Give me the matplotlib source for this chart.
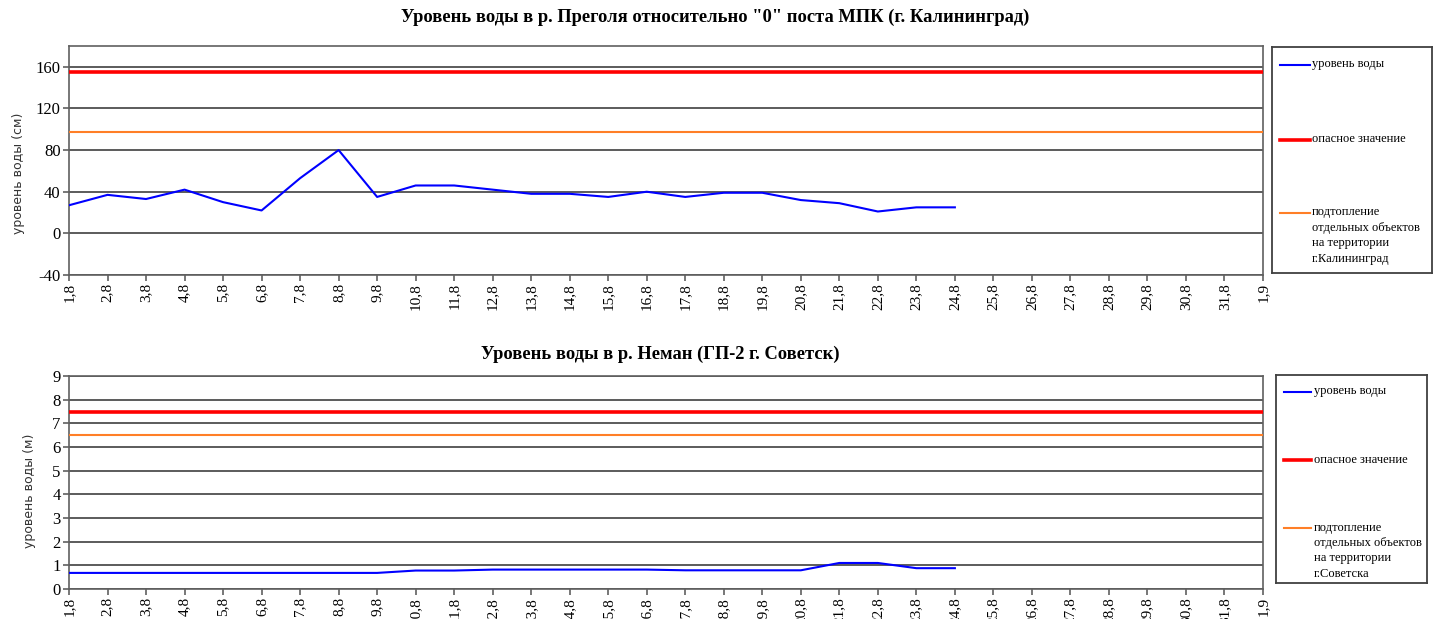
import numpy as np
import matplotlib.pyplot as plt

plt.rcParams['axes.unicode_minus'] = False

dates = ['1,8', '2,8', '3,8', '4,8', '5,8', '6,8', '7,8', '8,8', '9,8', '10,8',
         '11,8', '12,8', '13,8', '14,8', '15,8', '16,8', '17,8', '18,8', '19,8',
         '20,8', '21,8', '22,8', '23,8', '24,8', '25,8', '26,8', '27,8', '28,8',
         '29,8', '30,8', '31,8', '1,9']

# р. Преголя, см
pregolya = [27, 37, 33, 42, 30, 22, 53, 80, 35, 46, 46, 42, 38, 38, 35, 40,
            35, 39, 39, 32, 29, 21, 25, 25]
pregolya_danger = 155
pregolya_flood = 97

# р. Неман, м
neman = [0.68, 0.68, 0.68, 0.68, 0.68, 0.68, 0.68, 0.68, 0.68, 0.78, 0.78,
         0.82, 0.82, 0.82, 0.82, 0.82, 0.79, 0.79, 0.79, 0.79, 1.1, 1.1,
         0.88, 0.88]
neman_danger = 7.5
neman_flood = 6.5

serif = 'Liberation Serif'
W, H = 1437, 619
fig = plt.figure(figsize=(W / 100, H / 100), dpi=100)


def px(x0, y0, x1, y1):
    return [x0 / W, 1 - y1 / H, (x1 - x0) / W, (y1 - y0) / H]


def draw(ax, values, danger, flood, yticks, ylim, ylabel, lblxy):
    x = np.arange(len(dates))
    ax.plot(x[:len(values)], values, color='#0000ff', lw=1.5, zorder=3)
    ax.axhline(danger, color='#ff0000', lw=2.6, zorder=3)
    ax.axhline(flood, color='#ff7f27', lw=1.5, zorder=3)
    ax.set_xlim(0, len(dates) - 1)
    ax.set_ylim(*ylim)
    ax.set_yticks(yticks)
    ax.set_xticks(x)
    ax.set_xticklabels(dates, rotation=90, fontfamily=serif, fontsize=11)
    for lab in ax.get_yticklabels():
        lab.set_fontfamily(serif)
        lab.set_fontsize(12)
    ax.yaxis.grid(True, color='#404040', lw=1.2)
    ax.set_axisbelow(True)
    for s in ax.spines.values():
        s.set_color('#606060')
        s.set_linewidth(1.2)
    ax.tick_params(axis='both', direction='out', length=4, width=1.2,
                   color='#606060', pad=2)
    ax.set_ylabel(ylabel, fontsize=9, color='#333333')
    ax.yaxis.set_label_coords(*lblxy)


def legend_box(rect, place_lbl):
    lax = fig.add_axes(rect)
    lax.set_xlim(0, 1)
    lax.set_ylim(1, 0)
    lax.set_xticks([])
    lax.set_yticks([])
    for s in lax.spines.values():
        s.set_color('#404040')
        s.set_linewidth(1.3)
    items = [('#0000ff', 1.5, 'уровень воды', 0.08),
             ('#ff0000', 2.6, 'опасное значение', 0.41),
             ('#ff7f27', 1.5, 'подтопление\nотдельных объектов\nна территории\n' + place_lbl, 0.735)]
    for col, lw, lbl, y in items:
        lax.plot([0.05, 0.235], [y, y], color=col, lw=lw)
        lax.text(0.25, y - 0.03, lbl, va='top', ha='left', fontfamily=serif,
                 fontsize=9, linespacing=1.38)


t1 = 'Уровень воды в р. Преголя относительно "0" поста МПК (г. Калининград)'
t2 = 'Уровень воды в р. Неман (ГП-2 г. Советск)'
fig.text(715 / W, 1 - 17 / H, t1, ha='center', va='center',
         fontfamily=serif, fontweight='bold', fontsize=13.3)
fig.text(660 / W, 1 - 354 / H, t2, ha='center', va='center',
         fontfamily=serif, fontweight='bold', fontsize=13.3)

ax1 = fig.add_axes(px(69, 46, 1263, 275))
draw(ax1, pregolya, pregolya_danger, pregolya_flood,
     [-40, 0, 40, 80, 120, 160], (-40, 180), 'уровень воды (см)',
     (-0.037, 0.445))

ax2 = fig.add_axes(px(69, 376, 1263, 589))
draw(ax2, neman, neman_danger, neman_flood,
     list(range(10)), (0, 9), 'уровень воды (м)', (-0.028, 0.46))

legend_box(px(1272, 47, 1432, 273), 'г.Калининград')
legend_box(px(1276, 375, 1427, 583), 'г.Советска')

fig.savefig('out.png', dpi=100, facecolor='white')
